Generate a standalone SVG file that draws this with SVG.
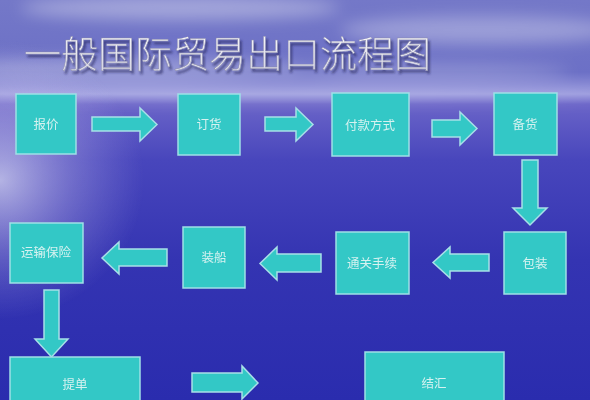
<svg xmlns="http://www.w3.org/2000/svg" width="590" height="400" viewBox="0 0 590 400">
<defs>
<linearGradient id="bg" x1="0" y1="0" x2="0" y2="1">
<stop offset="0" stop-color="#7478c8"/>
<stop offset="0.18" stop-color="#6c70c6"/>
<stop offset="0.235" stop-color="#9a9ade"/>
<stop offset="0.26" stop-color="#6a64c8"/>
<stop offset="0.4" stop-color="#4846bc"/>
<stop offset="0.65" stop-color="#3434b2"/>
<stop offset="1" stop-color="#2a2cae"/>
</linearGradient>
<radialGradient id="glow" cx="0" cy="0.45" r="0.35" gradientTransform="scale(0.7,1)">
<stop offset="0" stop-color="#ffffff" stop-opacity="0.6"/>
<stop offset="0.5" stop-color="#d8d0f0" stop-opacity="0.3"/>
<stop offset="1" stop-color="#c0b8f0" stop-opacity="0"/>
</radialGradient>
<linearGradient id="tfill" x1="0" y1="0" x2="0" y2="1">
<stop offset="0" stop-color="#ffffff"/>
<stop offset="1" stop-color="#d0d0e0"/>
</linearGradient>
<filter id="blur" x="-20%" y="-50%" width="140%" height="200%"><feGaussianBlur stdDeviation="8"/></filter>
<filter id="shadow" x="-5%" y="-30%" width="110%" height="160%"><feDropShadow dx="2" dy="3" stdDeviation="1.2" flood-color="#202050" flood-opacity="0.6"/></filter>
<style>
.node rect{fill:#33c8c6;stroke:#9fe0e6;stroke-width:1.5}
.node text{font-family:"Noto Sans CJK SC",sans-serif;font-size:12.5px;fill:#d6f2f0;text-anchor:middle}
.arr path{fill:#33c8c6;stroke:#a8dfe8;stroke-width:1.5;stroke-linejoin:miter}
.title{font-family:"Noto Sans CJK SC",sans-serif;font-size:37px;font-weight:300}
</style>
</defs>
<rect width="590" height="400" fill="url(#bg)"/>
<g filter="url(#blur)" fill="#ffffff">
<ellipse cx="180" cy="8" rx="160" ry="12" opacity="0.35"/>
<ellipse cx="480" cy="30" rx="140" ry="14" opacity="0.3"/>
<ellipse cx="120" cy="70" rx="180" ry="12" opacity="0.3"/>
<ellipse cx="420" cy="72" rx="150" ry="8" opacity="0.25"/>
<ellipse cx="300" cy="96" rx="320" ry="4" opacity="0.35"/>
</g>
<rect width="590" height="400" fill="url(#glow)"/>
<text class="title" x="24" y="68" fill="url(#tfill)" stroke="#8888a8" stroke-width="0.4" filter="url(#shadow)">一般国际贸易出口流程图</text>
<g id="connectors" class="arr">
<path d="M92,117 H140 V108 L157,124.5 L140,141 V131 H92 Z"/>
<path d="M265,117 H296 V108 L313,124.5 L296,141 V131 H265 Z"/>
<path d="M432,120 H460 V112 L477,128.5 L460,145 V137 H432 Z"/>
<path d="M522,160 H538 V208 H547 L530,225 L513,208 H522 Z"/>
<path d="M489,254 H450 V247 L433,262.5 L450,278 V271 H489 Z"/>
<path d="M321,254 H277 V247 L260,263.5 L277,280 V272 H321 Z"/>
<path d="M167,249 H119 V242 L102,258 L119,274 V266 H167 Z"/>
<path d="M44,290 H59 V339 H68 L51.5,357 L35,339 H44 Z"/>
<path d="M192,373 H242 V366 L258,383 L242,399 V392 H192 Z"/>
</g>
<g id="n1" class="node"><rect x="16" y="94" width="60" height="60"/><text x="46" y="129">报价</text></g>
<g id="n2" class="node"><rect x="178" y="94" width="62" height="61"/><text x="209" y="129">订货</text></g>
<g id="n3" class="node"><rect x="332" y="93" width="77" height="63"/><text x="370" y="130">付款方式</text></g>
<g id="n4" class="node"><rect x="494" y="93" width="63" height="62"/><text x="525" y="129">备货</text></g>
<g id="n5" class="node"><rect x="504" y="232" width="62" height="62"/><text x="535" y="268">包装</text></g>
<g id="n6" class="node"><rect x="336" y="232" width="73" height="62"/><text x="372" y="268">通关手续</text></g>
<g id="n7" class="node"><rect x="183" y="227" width="62" height="61"/><text x="214" y="262">装船</text></g>
<g id="n8" class="node"><rect x="10" y="223" width="73" height="60"/><text x="46" y="257">运输保险</text></g>
<g id="n9" class="node"><rect x="10" y="357" width="130" height="50"/><text x="75" y="389">提单</text></g>
<g id="n10" class="node"><rect x="365" y="352" width="139" height="55"/><text x="434" y="388">结汇</text></g>
</svg>
